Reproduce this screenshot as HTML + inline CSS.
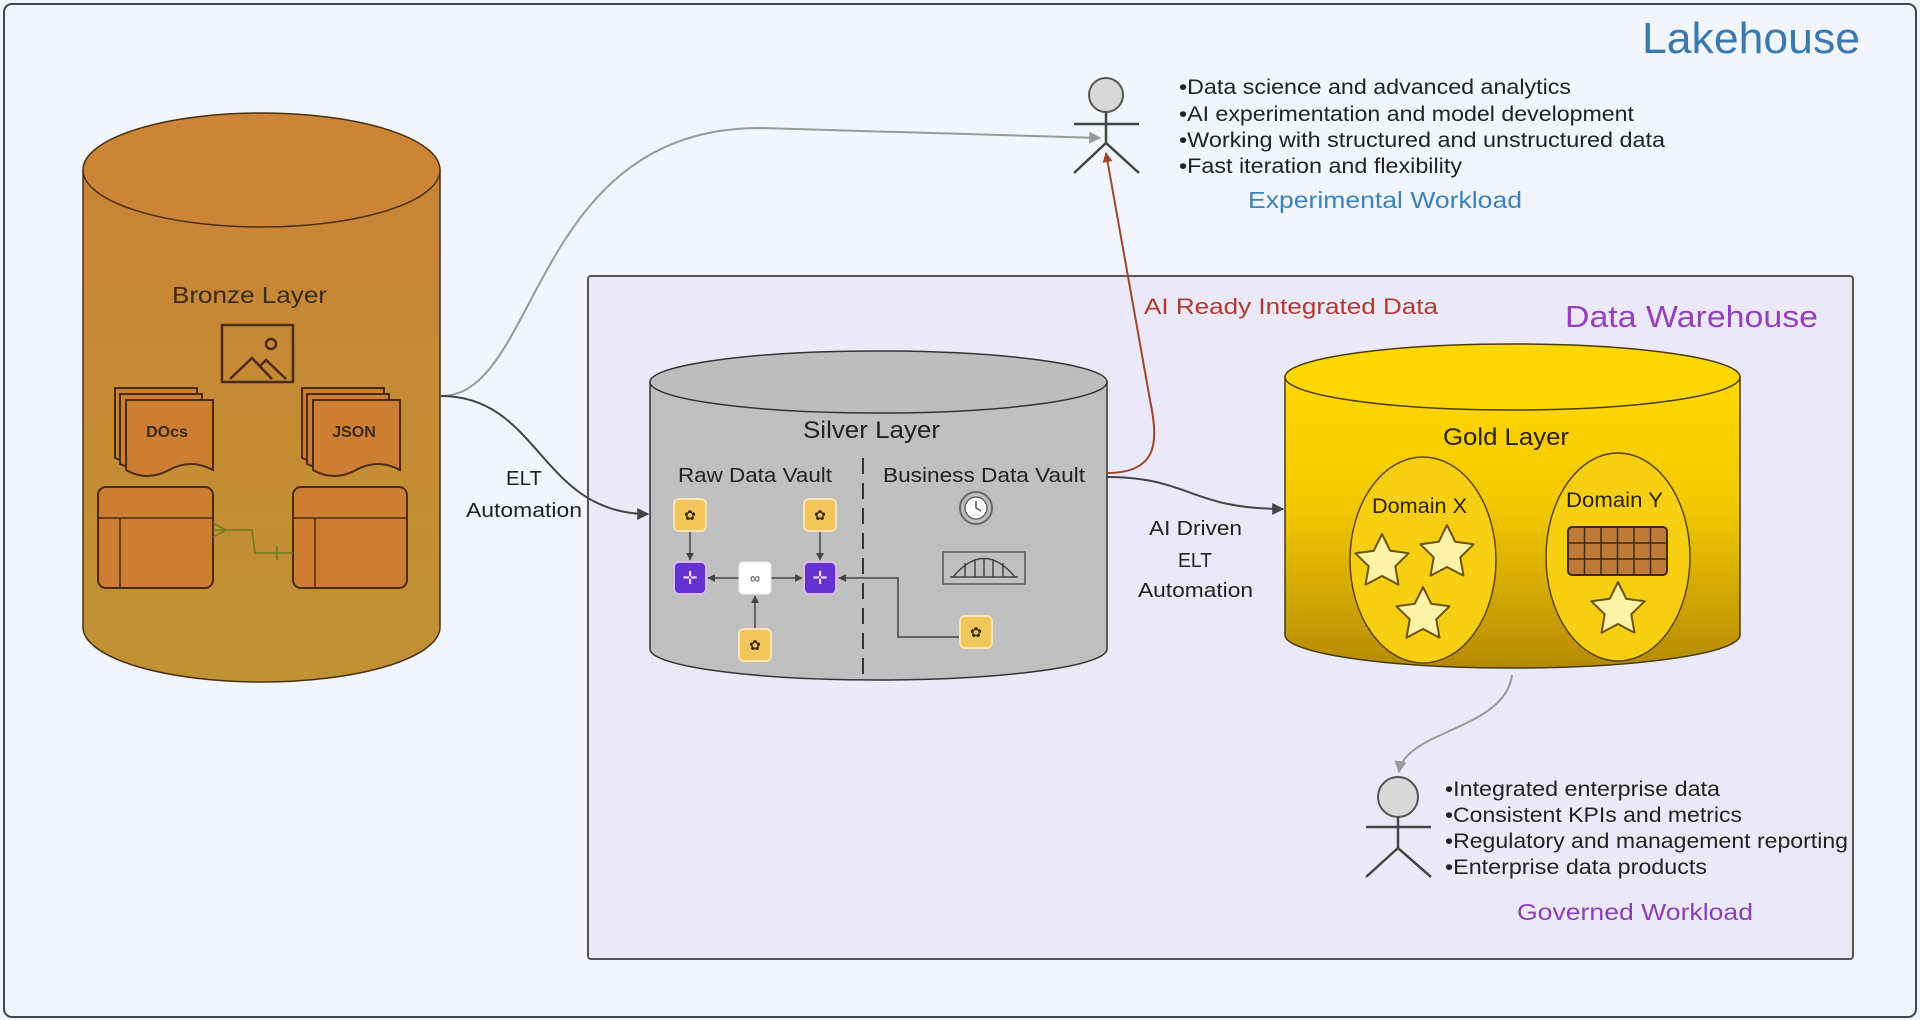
<!DOCTYPE html>
<html><head><meta charset="utf-8"><style>
html,body{margin:0;padding:0;background:#f2f6fc;}
svg{display:block;font-family:"Liberation Sans",sans-serif;}
</style></head><body>
<svg width="1920" height="1020" viewBox="0 0 1920 1020" xmlns="http://www.w3.org/2000/svg">
<defs>
<marker id="ad" viewBox="0 0 10 10" refX="9" refY="5" markerWidth="8" markerHeight="8" orient="auto-start-reverse" markerUnits="userSpaceOnUse"><path d="M0,0 L10,5 L0,10 z" fill="#444"/></marker>
<marker id="ag" viewBox="0 0 10 10" refX="9" refY="5" markerWidth="14" markerHeight="12" orient="auto" markerUnits="userSpaceOnUse"><path d="M0,0 L10,5 L0,10 z" fill="#999"/></marker>
<marker id="adk" viewBox="0 0 10 10" refX="9" refY="5" markerWidth="16" markerHeight="12" orient="auto" markerUnits="userSpaceOnUse"><path d="M0,0 L10,5 L0,10 z" fill="#444"/></marker>
<marker id="ar" viewBox="0 0 10 10" refX="9" refY="5" markerWidth="12" markerHeight="10" orient="auto" markerUnits="userSpaceOnUse"><path d="M0,0 L10,5 L0,10 z" fill="#a0442c"/></marker>
<linearGradient id="gold" x1="0" y1="0" x2="0" y2="1"><stop offset="0" stop-color="#ffd800"/><stop offset="0.45" stop-color="#f2c800"/><stop offset="1" stop-color="#b58a05"/></linearGradient>
<linearGradient id="bron" x1="0" y1="0" x2="0" y2="1"><stop offset="0" stop-color="#c98436"/><stop offset="1" stop-color="#c09234"/></linearGradient>
<g id="star"><polygon points="0,-28 8.2,-11.3 26.6,-8.7 13.3,4.3 16.5,22.7 0,14 -16.5,22.7 -13.3,4.3 -26.6,-8.7 -8.2,-11.3" fill="#fdf3a6" stroke="#6b5300" stroke-width="2" stroke-linejoin="round"/></g>
</defs>

<rect x="4" y="4" width="1912" height="1013" rx="8" fill="#f2f6fc" stroke="#444" stroke-width="2"/>
<text x="1642" y="53" font-size="44" fill="#3a78b0" textLength="218" lengthAdjust="spacingAndGlyphs">Lakehouse</text>

<rect x="588" y="276" width="1265" height="683" rx="3" fill="#ebe9f7" stroke="#555" stroke-width="2"/>
<text x="1565" y="327" font-size="31" fill="#9440bf" textLength="253" lengthAdjust="spacingAndGlyphs">Data Warehouse</text>

<!-- Bronze cylinder -->
<path d="M83,170 L83,627 A178.5,55 0 0 0 440,627 L440,170 Z" fill="url(#bron)" stroke="#4a3010" stroke-width="1.5"/>
<ellipse cx="261.5" cy="170" rx="178.5" ry="57" fill="#cc8436" stroke="#4a3010" stroke-width="1.5"/>
<text x="172" y="303" font-size="23" fill="#3a2a1a" textLength="155" lengthAdjust="spacingAndGlyphs">Bronze Layer</text>
<g fill="none" stroke="#4a2a10" stroke-width="2.5">
<rect x="222" y="325" width="71" height="57"/>
<circle cx="271" cy="344" r="5"/>
<polyline points="230,379 252,358 272,379"/>
<polyline points="260,366 266,360 286,379"/>
</g>
<g stroke="#4a2a10" stroke-width="2" fill="#cc7f33">
<path d="M115,388 h82 v70 q-20,-10 -40,0 t-42,0 z"/>
<path d="M120,394 h82 v70 q-20,-10 -40,0 t-42,0 z"/>
<path d="M126,400 h87 v70 q-22,-12 -44,0 t-43,0 z"/>
<path d="M302,388 h82 v70 q-20,-10 -40,0 t-42,0 z"/>
<path d="M307,394 h82 v70 q-20,-10 -40,0 t-42,0 z"/>
<path d="M313,400 h87 v70 q-22,-12 -44,0 t-43,0 z"/>
</g>
<text x="167" y="437" font-size="16" fill="#3a2a1a" text-anchor="middle" font-weight="bold">DOcs</text>
<text x="354" y="437" font-size="16" fill="#3a2a1a" text-anchor="middle" font-weight="bold">JSON</text>
<g stroke="#4a2a10" stroke-width="2" fill="#cc7f33">
<rect x="98" y="487" width="115" height="101" rx="8"/>
<rect x="293" y="487" width="114" height="101" rx="8"/>
</g>
<g stroke="#4a2a10" stroke-width="1.5">
<line x1="98" y1="518" x2="213" y2="518"/><line x1="120" y1="518" x2="120" y2="588"/>
<line x1="293" y1="518" x2="407" y2="518"/><line x1="315" y1="518" x2="315" y2="588"/>
</g>
<g stroke="#6b7a1e" stroke-width="1.5" fill="none">
<polyline points="213,530 252,530 255,553 293,553"/>
<polyline points="213,523 226,530 213,537"/>
<line x1="277" y1="546" x2="277" y2="560"/>
</g>

<!-- Silver cylinder -->
<path d="M650,382 L650,649 A228.5,31 0 0 0 1107,649 L1107,382 Z" fill="#bfbfbf" stroke="#333" stroke-width="1.5"/>
<ellipse cx="878.5" cy="382" rx="228.5" ry="31" fill="#bdbdbd" stroke="#333" stroke-width="1.5"/>
<text x="803" y="438" font-size="24" fill="#222" textLength="137" lengthAdjust="spacingAndGlyphs">Silver Layer</text>
<text x="678" y="482" font-size="20" fill="#222" textLength="154" lengthAdjust="spacingAndGlyphs">Raw Data Vault</text>
<text x="883" y="482" font-size="20" fill="#222" textLength="202" lengthAdjust="spacingAndGlyphs">Business Data Vault</text>
<line x1="863" y1="458" x2="863" y2="675" stroke="#333" stroke-width="2" stroke-dasharray="16,9"/>
<g stroke="#444" stroke-width="1.5" fill="none">
<line x1="690" y1="531" x2="690" y2="560" marker-end="url(#ad)"/>
<line x1="820" y1="531" x2="820" y2="560" marker-end="url(#ad)"/>
<line x1="739" y1="578" x2="708" y2="578" marker-end="url(#ad)"/>
<line x1="771" y1="578" x2="802" y2="578" marker-end="url(#ad)"/>
<line x1="755" y1="629" x2="755" y2="596" marker-end="url(#ad)"/>
<polyline points="960,637 898,637 898,578 839,578" marker-end="url(#ad)"/>
</g>
<g stroke="#f7e4ae" stroke-width="2" fill="#f2c65a">
<rect x="674" y="499" width="32" height="32" rx="5"/>
<rect x="804" y="499" width="32" height="32" rx="5"/>
<rect x="739" y="629" width="32" height="32" rx="5"/>
<rect x="960" y="616" width="32" height="32" rx="5"/>
</g>
<g font-size="14" fill="#3a2a10" text-anchor="middle">
<text x="690" y="520">✿</text><text x="820" y="520">✿</text><text x="755" y="650">✿</text><text x="976" y="637">✿</text>
</g>
<g stroke="#d9b8f5" stroke-width="2" fill="#6333d1">
<rect x="674" y="562" width="32" height="32" rx="5"/>
<rect x="804" y="562" width="32" height="32" rx="5"/>
</g>
<g fill="#f4d8ff" font-size="18" text-anchor="middle"><text x="690" y="584">✛</text><text x="820" y="584">✛</text></g>
<rect x="739" y="562" width="32" height="32" rx="4" fill="#fff" stroke="#eee"/>
<text x="755" y="583" font-size="14" fill="#444" text-anchor="middle">∞</text>
<circle cx="976" cy="508" r="16" fill="none" stroke="#666" stroke-width="2"/>
<circle cx="976" cy="508" r="11" fill="#fff" stroke="#666" stroke-width="1.5"/>
<polyline points="976,501 976,508 981,511" fill="none" stroke="#555" stroke-width="1.5"/>
<rect x="943" y="552" width="82" height="32" fill="none" stroke="#555" stroke-width="1.5"/>
<g fill="none" stroke="#444" stroke-width="1.5">
<path d="M953,577 Q984,540 1015,577"/>
<line x1="950" y1="577" x2="1018" y2="577"/>
<line x1="965" y1="563" x2="965" y2="577"/><line x1="975" y1="559" x2="975" y2="577"/><line x1="984" y1="558" x2="984" y2="577"/><line x1="993" y1="559" x2="993" y2="577"/><line x1="1003" y1="563" x2="1003" y2="577"/>
</g>

<!-- Gold cylinder -->
<path d="M1285,377 L1285,635 A227.5,33 0 0 0 1740,635 L1740,377 Z" fill="url(#gold)" stroke="#4a3a00" stroke-width="1.5"/>
<ellipse cx="1512.5" cy="377" rx="227.5" ry="33" fill="#ffd700" stroke="#4a3a00" stroke-width="1.5"/>
<text x="1443" y="445" font-size="24" fill="#2a2200" textLength="126" lengthAdjust="spacingAndGlyphs">Gold Layer</text>
<ellipse cx="1423" cy="560" rx="73" ry="103" fill="#f7cf12" stroke="#5a4500" stroke-width="1.5"/>
<ellipse cx="1618" cy="557" rx="72" ry="104" fill="#f7cf12" stroke="#5a4500" stroke-width="1.5"/>
<text x="1372" y="513" font-size="21" fill="#2a2200" textLength="95" lengthAdjust="spacingAndGlyphs">Domain X</text>
<text x="1566" y="507" font-size="21" fill="#2a2200" textLength="97" lengthAdjust="spacingAndGlyphs">Domain Y</text>
<use href="#star" x="1382" y="562"/><use href="#star" x="1447" y="553"/><use href="#star" x="1423" y="615"/><use href="#star" x="1618" y="610"/>
<rect x="1568" y="527" width="99" height="48" rx="4" fill="#c07a38" stroke="#3a2a10" stroke-width="2"/>
<g stroke="#3a2a10" stroke-width="1.5">
<line x1="1584.5" y1="527" x2="1584.5" y2="575"/><line x1="1601" y1="527" x2="1601" y2="575"/><line x1="1617.5" y1="527" x2="1617.5" y2="575"/><line x1="1634" y1="527" x2="1634" y2="575"/><line x1="1650.5" y1="527" x2="1650.5" y2="575"/>
<line x1="1568" y1="543" x2="1667" y2="543"/><line x1="1568" y1="559" x2="1667" y2="559"/>
</g>

<!-- connectors -->
<path d="M441,396 C540,396 530,128 760,128 L1100,138" fill="none" stroke="#999" stroke-width="2" marker-end="url(#ag)"/>
<path d="M441,396 C540,396 540,514 648,514" fill="none" stroke="#444" stroke-width="2" marker-end="url(#adk)"/>
<path d="M1106,473 C1160,473 1158,440 1150,400 L1106,153" fill="none" stroke="#a0442c" stroke-width="2" marker-end="url(#ar)"/>
<path d="M1106,477 C1190,477 1190,509 1283,509" fill="none" stroke="#444" stroke-width="2" marker-end="url(#adk)"/>
<path d="M1512,675 C1505,730 1405,730 1399,772" fill="none" stroke="#999" stroke-width="2" marker-end="url(#ag)"/>

<text x="506" y="485" font-size="20" fill="#222" textLength="36" lengthAdjust="spacingAndGlyphs">ELT</text>
<text x="466" y="517" font-size="20" fill="#222" textLength="116" lengthAdjust="spacingAndGlyphs">Automation</text>
<text x="1149" y="535" font-size="20" fill="#222" textLength="93" lengthAdjust="spacingAndGlyphs">AI Driven</text>
<text x="1178" y="567" font-size="20" fill="#222" textLength="34" lengthAdjust="spacingAndGlyphs">ELT</text>
<text x="1138" y="597" font-size="20" fill="#222" textLength="115" lengthAdjust="spacingAndGlyphs">Automation</text>
<text x="1144" y="314" font-size="22" fill="#b03a30" textLength="294" lengthAdjust="spacingAndGlyphs">AI Ready Integrated Data</text>

<!-- top actor -->
<g stroke="#444" stroke-width="2.5" fill="none">
<circle cx="1106" cy="95" r="17" fill="#d8d8d8" stroke="#555" stroke-width="2"/>
<line x1="1106" y1="112" x2="1106" y2="143"/>
<line x1="1074" y1="124" x2="1139" y2="124"/>
<polyline points="1074,173 1106,143 1139,173"/>
</g>
<g font-size="21" fill="#222">
<text x="1179" y="94" textLength="392" lengthAdjust="spacingAndGlyphs">•Data science and advanced analytics</text>
<text x="1179" y="121" textLength="455" lengthAdjust="spacingAndGlyphs">•AI experimentation and model development</text>
<text x="1179" y="147" textLength="486" lengthAdjust="spacingAndGlyphs">•Working with structured and unstructured data</text>
<text x="1179" y="173" textLength="283" lengthAdjust="spacingAndGlyphs">•Fast iteration and flexibility</text>
</g>
<text x="1248" y="208" font-size="23" fill="#3a82be" textLength="274" lengthAdjust="spacingAndGlyphs">Experimental Workload</text>

<!-- bottom actor -->
<g stroke="#444" stroke-width="2.5" fill="none">
<circle cx="1398" cy="797" r="20" fill="#d8d8d8" stroke="#555" stroke-width="2"/>
<line x1="1398" y1="817" x2="1398" y2="848"/>
<line x1="1366" y1="827" x2="1431" y2="827"/>
<polyline points="1366,877 1398,848 1431,877"/>
</g>
<g font-size="21" fill="#222">
<text x="1445" y="796" textLength="275" lengthAdjust="spacingAndGlyphs">•Integrated enterprise data</text>
<text x="1445" y="822" textLength="297" lengthAdjust="spacingAndGlyphs">•Consistent KPIs and metrics</text>
<text x="1445" y="848" textLength="403" lengthAdjust="spacingAndGlyphs">•Regulatory and management reporting</text>
<text x="1445" y="874" textLength="262" lengthAdjust="spacingAndGlyphs">•Enterprise data products</text>
</g>
<text x="1517" y="920" font-size="23" fill="#8a3fb5" textLength="236" lengthAdjust="spacingAndGlyphs">Governed Workload</text>
</svg>
</body></html>
